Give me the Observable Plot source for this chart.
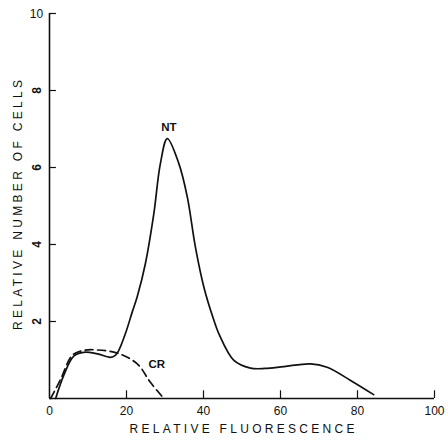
<!DOCTYPE html>
<html>
<head>
<meta charset="utf-8">
<script src="https://cdn.jsdelivr.net/npm/d3@7"></script>
<script src="https://cdn.jsdelivr.net/npm/@observablehq/plot@0.6"></script>
<style>
  body { margin: 0; background: #fff; }
  #chart svg { display: block; background: #fff; font-family: "Liberation Sans", Arial, sans-serif; }
</style>
</head>
<body>
<div id="chart"></div>
<script>
// NT histogram (solid)
const ntFluor = [1.6, 3.7, 6.3, 8.9, 12.4, 15.8, 17.1, 18, 19.7, 21.5, 22.8, 24.9, 27.1, 28.8, 30.6, 33.6, 35.8, 37.9, 40.1, 42.7, 44, 47.9, 52.2, 56, 60.9, 67.8, 72.1, 78.2, 84.2];
const ntCells = [0, 0.6, 1.1, 1.2, 1.16, 1.07, 1.12, 1.25, 1.68, 2.25, 2.65, 3.5, 4.8, 6.1, 6.75, 6.1, 5.23, 3.93, 2.89, 2.03, 1.68, 0.99, 0.79, 0.78, 0.83, 0.9, 0.81, 0.47, 0.1];

// CR histogram (dashed)
const crFluor = [0.3, 2.9, 5.9, 8.9, 12.4, 17.6, 22.8, 26.2, 29.7];
const crCells = [0, 0.5, 1.12, 1.25, 1.26, 1.18, 0.9, 0.42, 0];

// Axis ticks
const xTicks = [0, 20, 40, 60, 80, 100];
const yTicks = [2, 4, 6, 8];
const yTop = [10];

const nt = ntFluor.map((x, i) => ({x, y: ntCells[i]}));
const cr = crFluor.map((x, i) => ({x, y: crCells[i]}));

const chart = Plot.plot({
  width: 448,
  height: 441,
  marginLeft: 49,
  marginRight: 14,
  marginTop: 13,
  marginBottom: 43,
  x: {domain: [0, 100], axis: null},
  y: {domain: [0, 10], axis: null},
  style: {fontFamily: "Liberation Sans, Arial, sans-serif", color: "#111"},
  marks: [
    // frame lines
    Plot.ruleY([0], {x1: 0, x2: 100, stroke: "#111", strokeWidth: 1.6}),
    Plot.ruleX([0], {y1: 0, y2: 10, stroke: "#111", strokeWidth: 1.6}),
    // inward ticks
    Plot.ruleX(xTicks.slice(1), {y1: 0, y2: 0.2, stroke: "#111", strokeWidth: 1.2}),
    Plot.ruleY(yTicks.concat(yTop), {x1: 0, x2: 1.8, stroke: "#111", strokeWidth: 1.2}),
    // x tick labels
    Plot.axisX({ticks: xTicks, tickSize: 0, tickPadding: 8, label: null, fontSize: 12}),
    // y tick labels (rotated) and top label
    Plot.text(yTicks, {x: 0, y: d => d, text: d => String(d), rotate: -90, dx: -12, fontSize: 12, fill: "#111", fontWeight: "bold"}),
    Plot.text(yTop, {x: 0, y: d => d, text: d => String(d), dx: -13, dy: 1, fontSize: 12, fill: "#111"}),
    // axis titles
    Plot.text(["RELATIVE FLUORESCENCE"], {frameAnchor: "bottom", dy: 34, text: d => d, fontSize: 12, fill: "#111"}),
    Plot.text(["RELATIVE NUMBER OF CELLS"], {frameAnchor: "left", dx: -31, dy: 124, rotate: -90, textAnchor: "start", text: d => d, fontSize: 12, fill: "#111"}),
    // curves
    Plot.line(cr, {x: "x", y: "y", curve: "catmull-rom", stroke: "#111", strokeWidth: 1.7, strokeDasharray: "8,4.5"}),
    Plot.line(nt, {x: "x", y: "y", curve: "catmull-rom", stroke: "#111", strokeWidth: 1.7}),
    // series labels
    Plot.text([{x: 31, y: 7.04, t: "NT"}], {x: "x", y: "y", text: "t", fontSize: 11.5, fontWeight: "bold", fill: "#111"}),
    Plot.text([{x: 25.7, y: 0.9, t: "CR"}], {x: "x", y: "y", text: "t", textAnchor: "start", fontSize: 11.5, fontWeight: "bold", fill: "#111"})
  ]
});

// spread the axis titles out to their full width
const titleLength = {"RELATIVE FLUORESCENCE": 225, "RELATIVE NUMBER OF CELLS": 250};
d3.select(chart).selectAll("text")
  .filter(function () { return this.textContent in titleLength; })
  .attr("textLength", function () { return titleLength[this.textContent]; })
  .attr("lengthAdjust", "spacing");

document.getElementById("chart").append(chart);
</script>
</body>
</html>
